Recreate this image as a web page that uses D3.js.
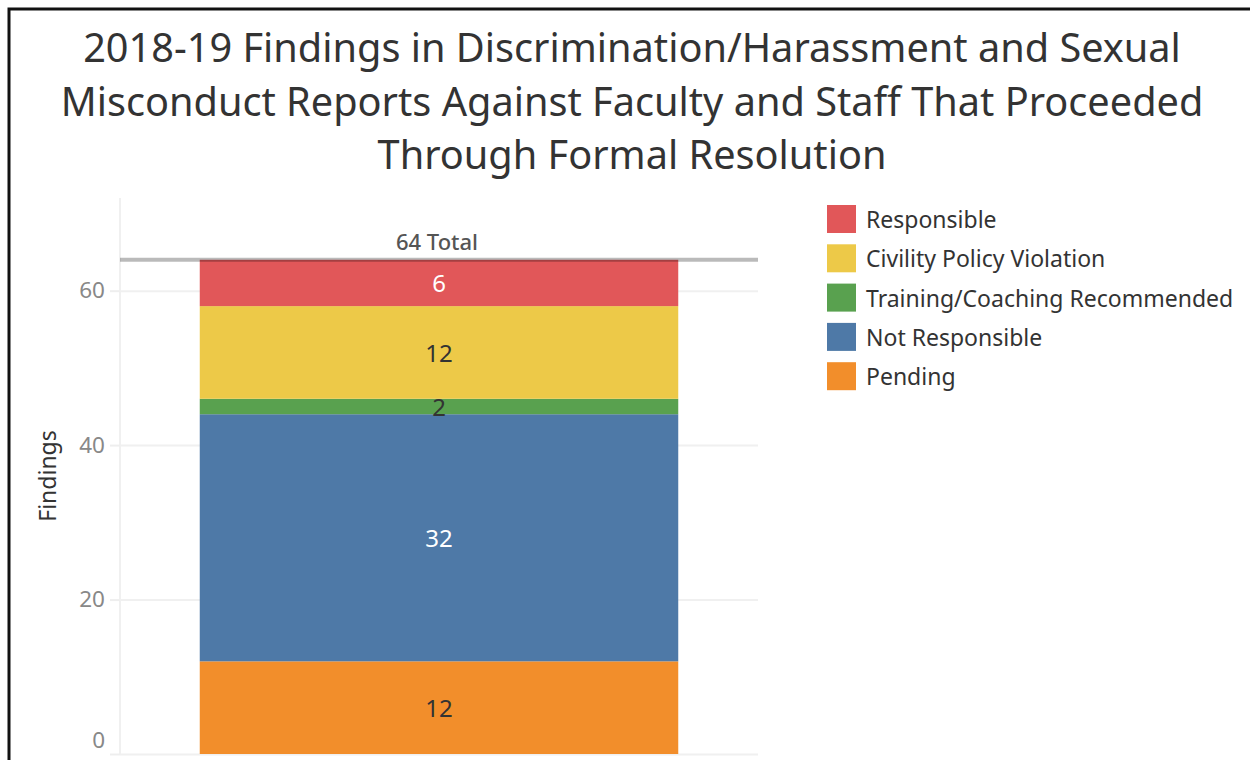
<!DOCTYPE html>
<html>
<head>
<meta charset="utf-8">
<script src="https://cdn.jsdelivr.net/npm/d3@7"></script>
<style>
  body { margin: 0; background: #fff; }
  svg { display: block; font-family: "Noto Sans", sans-serif; }
</style>
</head>
<body>
<svg id="chart" width="1250" height="760"></svg>
<script>
// data, top of stack first
const categories = ['Responsible', 'Civility Policy Violation', 'Training/Coaching Recommended', 'Not Responsible', 'Pending'];
const findings = [6, 12, 2, 32, 12];
const colors = ['#e15759', '#edc948', '#59a14f', '#4e79a7', '#f28e2b'];
const labelColors = ['#fff', '#333', '#333', '#fff', '#333'];
const yTicks = [0, 20, 40, 60];
const titleLines = [
  '2018-19 Findings in Discrimination/Harassment and Sexual',
  'Misconduct Reports Against Faculty and Staff That Proceeded',
  'Through Formal Resolution'
];
const total = d3.sum(findings);

const svg = d3.select('#chart');

// frame
svg.append('path')
  .attr('d', 'M9,770 V9 H1260')
  .attr('fill', 'none')
  .attr('stroke', '#111')
  .attr('stroke-width', 3);

// title
svg.append('g')
  .selectAll('text')
  .data(titleLines)
  .join('text')
  .attr('x', 632)
  .attr('y', (d, i) => 62 + i * 53.5)
  .attr('text-anchor', 'middle')
  .attr('font-size', 39.7)
  .attr('fill', '#333')
  .text(d => d);

const plot = { left: 120, right: 758, top: 198, bottom: 754 };

const x = d3.scaleBand()
  .domain(['2018-19'])
  .range([plot.left, plot.right])
  .paddingInner(0.25)
  .paddingOuter(0.125);

const y = d3.scaleLinear()
  .domain([0, 72])
  .range([plot.bottom, plot.top]);

/*
Grid lines come from a d3 axis with the labels blanked out.
*/
svg.append('g')
  .attr('transform', `translate(${plot.left},0)`)
  .call(d3.axisLeft(y).tickValues(yTicks).tickSize(-(plot.right - plot.left)).tickFormat(''))
  .call(g => g.select('.domain').remove())
  .selectAll('.tick line')
  .attr('stroke', '#f0f0f0')
  .attr('stroke-width', 2);

// vertical axis line
svg.append('line')
  .attr('x1', plot.left).attr('x2', plot.left)
  .attr('y1', plot.top).attr('y2', plot.bottom)
  .attr('stroke', '#f0f0f0')
  .attr('stroke-width', 2);

const axisY = svg.append('g')
  .attr('transform', `translate(${plot.left},0)`)
  .call(d3.axisLeft(y).tickValues(yTicks).tickSize(10).tickPadding(5));
axisY.select('.domain').remove();
axisY.selectAll('.tick line').attr('stroke', '#eee').attr('stroke-width', 2);
axisY.selectAll('.tick text')
  .attr('font-size', 22.5)
  .attr('font-family', '"Noto Sans", sans-serif')
  .attr('fill', '#888')
  // the 0 label is lifted so it stays inside the view
  .attr('dy', d => d === 0 ? '-0.3em' : '0.32em');

svg.append('text')
  .attr('transform', `translate(56,${(plot.top + plot.bottom) / 2}) rotate(-90)`)
  .attr('text-anchor', 'middle')
  .attr('font-size', 23)
  .attr('fill', '#333')
  .text('Findings');

// stacked segments, built bottom up
const stackOrder = d3.range(categories.length).reverse();
let base = 0;
const segments = stackOrder.map(i => {
  const s = { i, y0: base, y1: base + findings[i] };
  base += findings[i];
  return s;
});

const bx = x('2018-19');
const bw = x.bandwidth();

svg.append('g')
  .selectAll('rect')
  .data(segments)
  .join('rect')
  .attr('x', bx)
  .attr('width', bw)
  .attr('y', d => y(d.y1))
  .attr('height', d => y(d.y0) - y(d.y1))
  .attr('fill', d => colors[d.i]);

svg.append('g')
  .selectAll('text')
  .data(segments)
  .join('text')
  .attr('x', bx + bw / 2)
  .attr('y', d => y((d.y0 + d.y1) / 2) + 1)
  .attr('dy', '0.35em')
  .attr('text-anchor', 'middle')
  .attr('font-size', 24)
  .attr('fill', d => labelColors[d.i])
  .text(d => findings[d.i]);

// total reference line
svg.append('line')
  .attr('x1', plot.left).attr('x2', plot.right)
  .attr('y1', y(total)).attr('y2', y(total))
  .attr('stroke', '#000')
  .attr('stroke-opacity', 0.27)
  .attr('stroke-width', 4);

const totalLabel = svg.append('g');
totalLabel.append('rect')
  .attr('x', bx + bw / 2 - 54)
  .attr('y', y(total) - 33)
  .attr('width', 106)
  .attr('height', 29)
  .attr('fill', '#fff');
totalLabel.append('text')
  .attr('x', bx + bw / 2 - 2)
  .attr('y', y(total) - 10)
  .attr('text-anchor', 'middle')
  .attr('font-size', 22)
  .attr('font-weight', 500)
  .attr('fill', '#555')
  .text(`${total} Total`);

// legend
const legend = svg.append('g')
  .attr('transform', 'translate(827,205)');
const item = legend.selectAll('g')
  .data(categories)
  .join('g')
  .attr('transform', (d, i) => `translate(0,${i * 39.3})`);
item.append('rect')
  .attr('width', 29)
  .attr('height', 28)
  .attr('fill', (d, i) => colors[i]);
item.append('text')
  .attr('x', 39)
  .attr('y', 15)
  .attr('dy', '0.35em')
  .attr('font-size', 23)
  .attr('fill', '#333')
  .text(d => d);
</script>
</body>
</html>
